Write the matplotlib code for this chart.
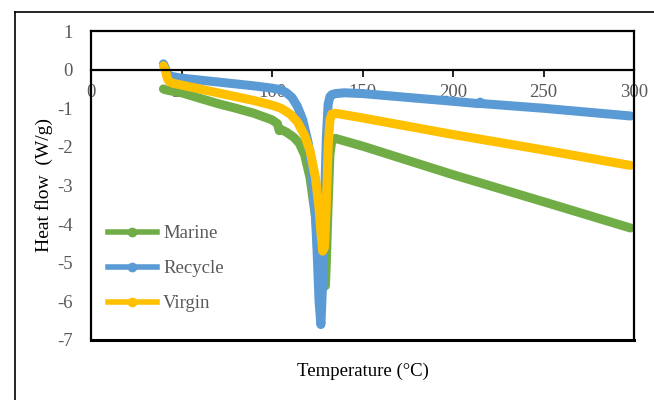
import matplotlib.pyplot as plt
from matplotlib.lines import Line2D

# DSC heat flow curves
marine_t = [40, 41, 43, 45, 50, 60, 70, 80, 90, 100, 103, 104, 105, 108, 112, 115, 118, 121,
            124, 126, 128, 129.5, 130, 131, 132, 133, 135, 150, 200, 250, 298]
marine_hf = [-0.5, -0.52, -0.54, -0.56, -0.6, -0.74, -0.88, -1.0, -1.13, -1.3, -1.4, -1.58, -1.55,
             -1.62, -1.75, -1.9, -2.2, -2.8, -3.8, -4.8, -5.4, -5.6, -5.0, -3.5, -2.2, -1.85,
             -1.78, -1.98, -2.72, -3.42, -4.1]

recycle_t = [40, 41, 42, 43, 45, 50, 60, 70, 80, 90, 100, 105, 108, 111, 114, 117, 120, 122,
             124, 125, 126, 127, 128, 129, 130, 131, 132, 133, 135, 140, 150, 200, 214, 215,
             216, 250, 298]
recycle_hf = [0.15, 0.05, -0.1, -0.15, -0.18, -0.22, -0.27, -0.32, -0.37, -0.42, -0.48, -0.52,
              -0.6, -0.72, -0.95, -1.3, -1.9, -2.6, -3.8, -4.8, -6.0, -6.6, -5.5, -3.5, -1.8,
              -0.9, -0.7, -0.65, -0.62, -0.6, -0.62, -0.82, -0.88, -0.84, -0.88, -1.0, -1.2]

virgin_t = [40, 41, 42, 43, 45, 50, 60, 70, 80, 90, 100, 105, 110, 114, 118, 121, 124, 126,
            127, 128, 129, 130, 131, 132, 133, 135, 150, 200, 250, 298]
virgin_hf = [0.1, 0.0, -0.2, -0.3, -0.35, -0.4, -0.5, -0.6, -0.7, -0.8, -0.92, -1.0, -1.15,
             -1.35, -1.7, -2.1, -2.8, -3.6, -4.2, -4.7, -4.6, -3.5, -2.0, -1.3, -1.15, -1.13,
             -1.25, -1.68, -2.08, -2.48]

series = [("Marine", marine_t, marine_hf, "#70AD47"),
          ("Recycle", recycle_t, recycle_hf, "#5B9BD5"),
          ("Virgin", virgin_t, virgin_hf, "#FFC000")]

x_ticks = [0, 50, 100, 150, 200, 250, 300]
y_ticks = [-7, -6, -5, -4, -3, -2, -1, 0, 1]

plt.rcParams['font.family'] = ['Liberation Serif', 'DejaVu Serif']
plt.rcParams['axes.unicode_minus'] = False
gray = "#595959"

fig = plt.figure(figsize=(6.54, 4.0), dpi=100)
ax = fig.add_axes([91 / 654, 60 / 400, 543 / 654, 309 / 400])

for name, t, hf, c in series:
    ax.plot(t, hf, color=c, lw=6.5, solid_capstyle='round', solid_joinstyle='round')

ax.set_xlim(0, 300)
ax.set_ylim(-7, 1)
ax.set_xticks(x_ticks)
ax.set_yticks(y_ticks)

# x axis sits at y = 0, box line drawn at the bottom
ax.spines['bottom'].set_position(('data', 0))
for s in ['top', 'left', 'right', 'bottom']:
    ax.spines[s].set_linewidth(1.6)
ax.plot([0, 1], [0, 0], transform=ax.transAxes, color='black', lw=2.2, clip_on=False)

ax.tick_params(axis='x', direction='out', length=5, width=1.2, pad=5,
               labelsize=13.5, labelcolor=gray)
ax.tick_params(axis='y', length=0, pad=13, labelsize=13.5, labelcolor=gray)

ax.set_ylabel("Heat flow  (W/g)", fontsize=14)
ax.yaxis.set_label_coords(-0.07, 0.5)
ax.text(0.5, -0.1, "Temperature (°C)", transform=ax.transAxes, ha='center', va='center',
        fontsize=13.5)

handles = [Line2D([], [], color=c, lw=4, marker='o', markersize=6) for _, _, _, c in series]
leg = ax.legend(handles, [s[0] for s in series], loc='lower left',
                bbox_to_anchor=(0.0, 0.035), frameon=False, fontsize=13.5,
                handlelength=2.6, labelspacing=0.95, handletextpad=0.35)
for txt in leg.get_texts():
    txt.set_color(gray)

# outer chart border (only left and top visible)
fig.add_artist(Line2D([15 / 654, 15 / 654], [0, 1 - 12 / 400], color='black', lw=1.2))
fig.add_artist(Line2D([15 / 654, 1], [1 - 12 / 400, 1 - 12 / 400], color='black', lw=1.2))

fig.savefig("out.png", dpi=100)
